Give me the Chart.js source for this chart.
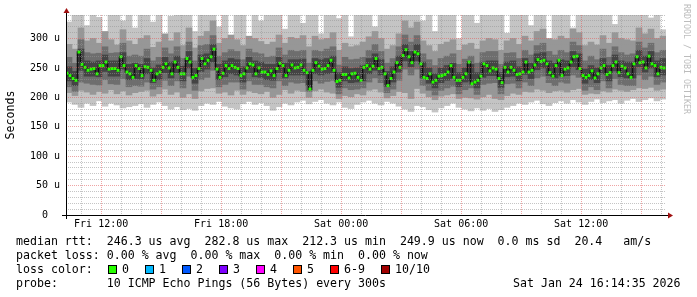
<!DOCTYPE html>
<html>
<head>
<meta charset="utf-8">
<script src="https://cdn.jsdelivr.net/npm/chart.js@4"></script>
<style>
  html, body { margin: 0; padding: 0; background: #fff; }
  #wrap { position: relative; width: 697px; height: 297px; overflow: hidden; font-family: "DejaVu Sans Mono", monospace; color: #000; }
  #graph { position: absolute; left: 0; top: 0; }
  .row { position: absolute; left: 16px; font-size: 11.6px; line-height: 14px; white-space: pre; }
  .box { position: absolute; top: 265px; width: 7px; height: 7px; border: 1px solid #000; }
  .lbl { position: absolute; top: 262px; font-size: 11.6px; line-height: 14px; white-space: pre; }
  #stamp { position: absolute; left: 682px; top: 4px; writing-mode: vertical-rl; font-size: 8.3px; line-height: 9px; color: #bcbcbc; }
</style>
</head>
<body>
<div id="wrap">
  <canvas id="graph" width="697" height="235"></canvas>
  <div class="row" style="top:234px">median rtt:  246.3 us avg  282.8 us max  212.3 us min  249.9 us now  0.0 ms sd  20.4   am/s</div>
  <div class="row" style="top:248px">packet loss: 0.00 % avg  0.00 % max  0.00 % min  0.00 % now</div>
  <div class="row" style="top:262px">loss color:</div>
  <div class="row" style="top:276px">probe:       10 ICMP Echo Pings (56 Bytes) every 300s</div>
  <div class="row" style="top:276px;left:513px">Sat Jan 24 16:14:35 2026</div>
  <div id="stamp">RRDTOOL / TOBI OETIKER</div>
</div>
<script>
// time axis: hours since Fri 00:00, graph covers the last 30 hours
const startHour = 10 + 14 / 60 + 35 / 3600;
const endHour = startHour + 30;
const medianStep = 0.15; // hours between median samples
const smokeStep = 0.3;   // hours per smoke column

const timeTicks = [12, 18, 24, 30, 36];
const timeLabels = ["Fri 12:00", "Fri 18:00", "Sat 00:00", "Sat 06:00", "Sat 12:00"];
const rttTicks = [0, 50, 100, 150, 200, 250, 300];

const lossLabels = ["0", "1", "2", "3", "4", "5", "6-9", "10/10"];
const lossColors = ["#26ff00", "#00b8ff", "#0059ff", "#7e00ff", "#ff00ff", "#ff5500", "#ff0000", "#a10000"];

// median rtt (us)
const medianRtt = [
  241,237,232,229,277,256,251,246,248,249,
  240,254,254,260,248,249,249,246,269,254,
  243,240,234,254,249,237,252,251,246,229,
  240,243,251,257,250,240,260,251,240,240,
  266,260,234,237,249,266,257,263,269,282,
  248,234,241,254,249,254,251,249,237,240,
  250,257,255,240,250,243,243,239,245,237,
  249,258,254,237,246,255,250,251,255,246,
  242,214,246,259,253,248,249,254,263,246,
  227,229,239,239,233,240,241,234,229,251,
  254,248,253,266,249,251,240,220,232,243,
  259,251,271,281,269,259,277,274,257,234,
  232,240,226,229,236,237,239,243,254,234,
  229,229,234,240,260,223,226,229,236,257,
  254,245,250,248,232,225,251,243,251,246,
  239,240,243,260,243,246,255,264,261,263,
  257,242,236,254,263,237,248,250,260,269,
  270,249,237,234,237,245,233,240,250,254,
  239,242,254,260,242,253,250,240,234,257,
  269,259,260,250,270,257,254,240,251,250
];

// smoke: sorted ping rtt per column (us)
const smokeMin = [
  192,188,183,190,186,194,185,190,187,182,
  184,186,189,183,188,192,186,180,184,179,
  181,178,186,190,188,193,185,182,180,189,
  193,188,191,186,178,184,190,187,192,195,
  189,193,196,190,187,192,183,181,188,192,
  195,190,187,193,190,185,180,176,186,184,
  179,175,182,186,190,183,180,177,182,178,
  181,176,179,183,186,190,188,192,195,189,
  186,191,194,190,196,192,188,193,197,191,
  194,196,190,195,198,193,196,199,194,197
];
const smokeMax = [
  328,340,345,322,345,336,310,345,345,330,
  345,318,345,345,328,345,300,338,345,345,
  345,312,345,345,345,320,345,305,345,345,
  298,345,330,345,345,345,316,345,345,326,
  345,345,308,345,345,334,345,303,345,345,
  345,320,345,345,345,345,345,345,345,330,
  345,312,345,345,345,300,345,345,326,345,
  345,345,345,309,345,345,345,322,345,345,
  296,345,345,345,318,345,345,345,345,345,
  345,324,345,345,345,345,345,335,345,315
];
const smokeP2 = [
  208,203,212,209,205,210,207,213,206,211,
  204,208,210,212,202,206,214,205,209,200,
  206,198,211,215,216,207,209,204,212,205,
  211,208,206,210,200,205,213,207,212,210,
  200,211,214,209,207,198,203,201,206,204,
  212,214,209,199,203,210,208,198,215,207,
  201,196,202,204,206,198,200,199,197,201,
  205,198,196,203,207,205,210,209,214,212,
  208,211,212,209,213,215,205,207,206,211,
  209,214,212,210,213,216,215,217,212,214
];
const smokeP9 = [
  290,282,318,296,300,292,312,298,289,315,
  296,290,300,305,285,294,308,296,310,288,
  318,284,304,312,330,292,300,306,298,288,
  304,300,295,290,294,306,292,302,300,305,
  286,304,298,300,310,280,292,286,288,294,
  303,312,300,282,288,308,330,318,328,296,
  288,278,290,294,298,280,289,292,282,296,
  300,298,280,296,300,290,304,296,312,316,
  300,298,304,300,316,310,288,294,289,305,
  292,310,300,298,296,318,308,316,300,304
];
const smokeP3 = [
  218,210,226,224,222,221,230,223,222,232,
  218,220,219,226,214,218,229,220,228,216,
  236,212,230,234,246,218,222,226,226,214,
  228,222,222,218,216,228,220,226,224,225,
  210,228,224,227,229,206,216,213,214,216,
  226,233,225,208,214,229,248,238,248,220,
  212,204,212,216,219,206,213,216,205,222,
  224,225,206,223,224,216,226,220,233,236,
  225,220,226,224,238,234,212,218,213,228,
  216,232,222,220,220,238,230,236,222,226
];
const smokeP8 = [
  268,258,298,276,274,275,286,275,276,292,
  270,272,270,282,262,268,284,274,286,266,
  294,262,288,290,305,270,276,281,278,264,
  282,276,274,268,270,284,272,280,278,280,
  258,280,278,282,286,255,268,264,265,268,
  280,290,278,258,266,286,306,294,305,274,
  264,254,266,270,274,256,265,270,258,276,
  278,278,256,275,276,266,280,272,288,292,
  278,272,280,276,294,288,262,270,264,282,
  268,286,276,272,274,294,284,292,276,280
];
const smokeP4 = [
  228,220,246,236,236,235,244,236,236,248,
  230,232,231,240,225,230,242,233,242,228,
  250,224,244,248,260,230,235,240,238,226,
  242,235,234,230,229,242,233,238,238,238,
  220,240,238,240,242,217,228,225,226,228,
  240,246,238,219,226,243,262,252,262,233,
  224,216,225,229,232,218,226,228,216,234,
  237,237,217,235,236,228,239,232,247,250,
  237,233,238,237,252,247,224,230,225,240,
  228,245,235,233,233,252,243,250,235,238
];
const smokeP7 = [
  252,244,282,262,260,262,272,262,262,276,
  256,258,256,266,250,255,268,260,270,253,
  278,249,272,274,290,256,262,266,264,252,
  268,262,260,256,256,268,258,264,264,265,
  244,266,264,266,270,242,252,249,250,254,
  266,274,264,244,252,270,290,278,290,260,
  250,240,250,254,258,242,250,256,242,260,
  262,262,242,260,262,252,266,258,274,276,
  262,258,264,262,278,274,248,254,250,266,
  254,272,262,260,260,280,270,278,262,266
];

function band(lo, hi) {
  return lo.map((v, i) => ({ x: startHour + smokeStep * (i + 0.5), y: [v, hi[i]] }));
}
const medianPoints = medianRtt.map((v, i) => ({ x: startHour + medianStep * (i + 1 / 3), y: v }));

const hourTicks = [];
for (let h = Math.ceil(startHour); h <= endHour; h++) hourTicks.push(h);
const rttGrid = [];
for (let v = 0; v <= 340; v += 10) rttGrid.push(v);

const minorGrid = "rgba(150,150,150,0.55)";
const majorGrid = "rgba(225,90,90,0.55)";
const mono = "DejaVu Sans Mono";

const axisArrows = {
  id: "axisArrows",
  afterDraw(chart) {
    const { ctx, chartArea: a } = chart;
    const x0 = a.left + 0.5, y0 = a.bottom + 0.5;
    ctx.save();
    ctx.strokeStyle = "#000";
    ctx.lineWidth = 1;
    ctx.beginPath();
    ctx.moveTo(x0, a.bottom + 4);
    ctx.lineTo(x0, a.top - 3);
    ctx.moveTo(a.left - 4, y0);
    ctx.lineTo(a.right + 3, y0);
    ctx.stroke();
    ctx.fillStyle = "#a01010";
    ctx.beginPath();
    ctx.moveTo(x0 - 3, a.top - 2);
    ctx.lineTo(x0 + 3, a.top - 2);
    ctx.lineTo(x0, a.top - 7);
    ctx.closePath();
    ctx.fill();
    ctx.beginPath();
    ctx.moveTo(a.right + 2, y0 - 3);
    ctx.lineTo(a.right + 2, y0 + 3);
    ctx.lineTo(a.right + 7, y0);
    ctx.closePath();
    ctx.fill();
    ctx.restore();
  }
};

const barBase = { type: "bar", borderWidth: 0, barPercentage: 1, categoryPercentage: 1, grouped: false };

new Chart(document.getElementById("graph"), {
  type: "bar",
  data: {
    datasets: [
      {
        type: "line",
        data: medianPoints,
        order: 0,
        borderColor: "#111111",
        borderWidth: 1.6,
        stepped: "middle",
        pointStyle: "rect",
        pointRadius: 2.1,
        pointBorderWidth: 0,
        pointBackgroundColor: lossColors[0],
        pointBorderColor: lossColors[0]
      },
      { ...barBase, data: band(smokeP4, smokeP7), order: 1, backgroundColor: "#444444" },
      { ...barBase, data: band(smokeP3, smokeP8), order: 2, backgroundColor: "#6e6e6e" },
      { ...barBase, data: band(smokeP2, smokeP9), order: 3, backgroundColor: "#979797" },
      { ...barBase, data: band(smokeMin, smokeMax), order: 4, backgroundColor: "#c4c4c4" }
    ]
  },
  options: {
    responsive: false,
    animation: false,
    devicePixelRatio: 1,
    events: [],
    layout: { padding: { top: 15, right: 31, bottom: 0, left: 0 } },
    plugins: { legend: { display: false }, tooltip: { enabled: false } },
    scales: {
      x: {
        type: "linear",
        offset: false,
        min: startHour,
        max: endHour,
        afterFit: (s) => { s.height = 20; },
        afterBuildTicks: (s) => { s.ticks = hourTicks.map((v) => ({ value: v })); },
        grid: {
          z: 1,
          offset: false,
          drawTicks: false,
          color: (c) => (c.tick && c.tick.value % 3 === 0 ? majorGrid : minorGrid)
        },
        border: { display: false, dash: [1, 1] },
        ticks: {
          autoSkip: false,
          maxRotation: 0,
          minRotation: 0,
          padding: 3,
          color: "#000",
          font: { family: mono, size: 10 },
          callback: (v) => {
            const i = timeTicks.indexOf(v);
            return i >= 0 ? timeLabels[i] : "";
          }
        }
      },
      y: {
        type: "linear",
        min: 0,
        max: 340,
        afterFit: (s) => { s.width = 66; },
        afterBuildTicks: (s) => { s.ticks = rttGrid.map((v) => ({ value: v })); },
        grid: {
          z: 1,
          drawTicks: false,
          color: (c) => (c.tick && c.tick.value % 50 === 0 ? majorGrid : minorGrid)
        },
        border: { display: false, dash: [1, 1] },
        title: {
          display: true,
          text: "Seconds",
          color: "#000",
          font: { family: mono, size: 11.6 },
          padding: { top: 4, bottom: 0 }
        },
        ticks: {
          autoSkip: false,
          padding: 6,
          color: "#000",
          font: { family: mono, size: 10 },
          callback: (v) => {
            if (!rttTicks.includes(v)) return "";
            return v === 0 ? "0  " : v + " u";
          }
        }
      }
    }
  },
  plugins: [axisArrows]
});

// loss colour legend boxes
const wrap = document.getElementById("wrap");
let bx = 108;
lossLabels.forEach((label, i) => {
  const box = document.createElement("div");
  box.className = "box";
  box.style.left = bx + "px";
  box.style.background = lossColors[i];
  wrap.appendChild(box);
  const t = document.createElement("div");
  t.className = "lbl";
  t.style.left = bx + 14 + "px";
  t.textContent = label;
  wrap.appendChild(t);
  bx += 37 + 7 * (label.length - 1);
});
</script>
</body>
</html>
